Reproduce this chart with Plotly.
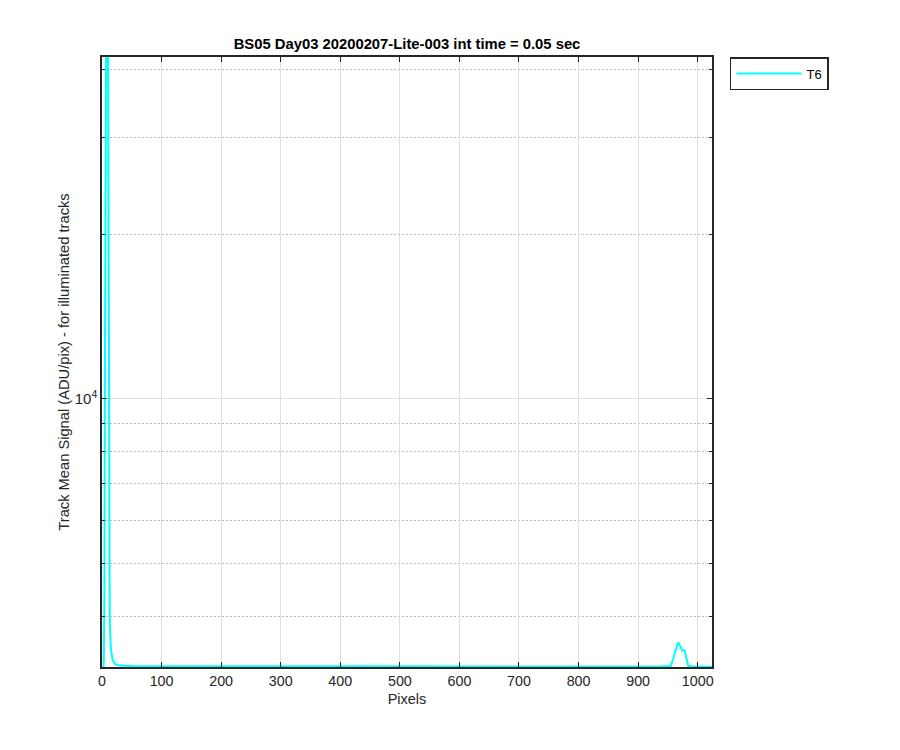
import plotly.graph_objects as go

# Data
pixels = [1, 2, 3, 4, 5, 6, 7, 8, 9, 10, 11, 12, 13, 15, 18, 22, 30, 50,
          100, 150, 200, 250, 300, 350, 400, 450, 500, 550, 600, 650, 700,
          750, 800, 850, 900, 940, 955, 958, 962, 966, 968, 970, 972, 974,
          976, 978, 980, 982, 984, 990, 1000, 1010, 1024]
signal_t6 = [3150, 3180, 3300, 4400, 12000, 60000, 85000, 90000, 80000, 50000,
             12000, 5200, 3900, 3480, 3330, 3275, 3255, 3248,
             3246, 3244, 3247, 3245, 3243, 3246, 3245, 3244, 3247, 3245, 3243, 3246, 3245,
             3244, 3246, 3245, 3244, 3246, 3250, 3330, 3450, 3560, 3585, 3540, 3490, 3466,
             3476, 3470, 3400, 3300, 3252, 3246, 3242, 3240, 3238]

x_ticks = [0, 100, 200, 300, 400, 500, 600, 700, 800, 900, 1000]
y_major = [10000]
y_major_text = ["10<sup>4</sup>"]
y_minor = [4000, 5000, 6000, 7000, 8000, 9000, 20000, 30000, 40000]

title_text = "BS05 Day03 20200207-Lite-003 int time = 0.05 sec"
x_title = "Pixels"
y_title = "Track Mean Signal (ADU/pix) - for illuminated tracks"

FONT = "Liberation Sans, Arial, Helvetica, sans-serif"
AX = "#262626"

fig = go.Figure()
fig.add_trace(go.Scatter(x=pixels, y=signal_t6, mode="lines", name="T6",
                         line=dict(color="#00FFFF", width=2)))

fig.update_layout(
    width=900, height=750,
    margin=dict(l=94, r=196, t=49, b=91),
    paper_bgcolor="white", plot_bgcolor="white",
    font=dict(family=FONT, size=14, color=AX),
    title=dict(text="<b>" + title_text + "</b>", x=399 / 900, xanchor="center",
               y=1 - 36 / 750, yanchor="middle",
               font=dict(family=FONT, size=14.8, color="black")),
    showlegend=True,
    legend=dict(x=1.0295, y=1, xanchor="left", yanchor="top",
                bgcolor="white", bordercolor=AX, borderwidth=1.5,
                itemwidth=65, tracegroupgap=0,
                font=dict(family=FONT, size=13, color="black")),
)

fig.update_xaxes(
    range=[0, 1024], tickmode="array", tickvals=x_ticks,
    ticks="inside", ticklen=5, tickcolor=AX, tickwidth=1,
    showline=True, linecolor=AX, linewidth=1.5, mirror="ticks",
    showgrid=True, gridcolor="#dfdfdf", gridwidth=1, zeroline=False,
    title=dict(text=x_title, standoff=6, font=dict(family=FONT, size=14.5, color=AX)),
    tickfont=dict(family=FONT, size=14.3, color=AX),
)
fig.update_yaxes(
    type="log", range=[3.510, 4.625],
    tickmode="array", tickvals=y_major, ticktext=y_major_text,
    ticks="inside", ticklen=5, tickcolor=AX, tickwidth=1,
    showline=True, linecolor=AX, linewidth=1.5, mirror="ticks",
    showgrid=True, gridcolor="#dfdfdf", gridwidth=1, zeroline=False,
    minor=dict(tickmode="array", tickvals=y_minor, ticks="inside", ticklen=3,
               tickcolor=AX, showgrid=True, gridcolor="#bdbdbd", griddash="2px,2px", gridwidth=1),
    title=dict(text=y_title, standoff=2, font=dict(family=FONT, size=14.7, color=AX)),
    tickfont=dict(family=FONT, size=15, color=AX),
)

fig.write_html("out.html")
